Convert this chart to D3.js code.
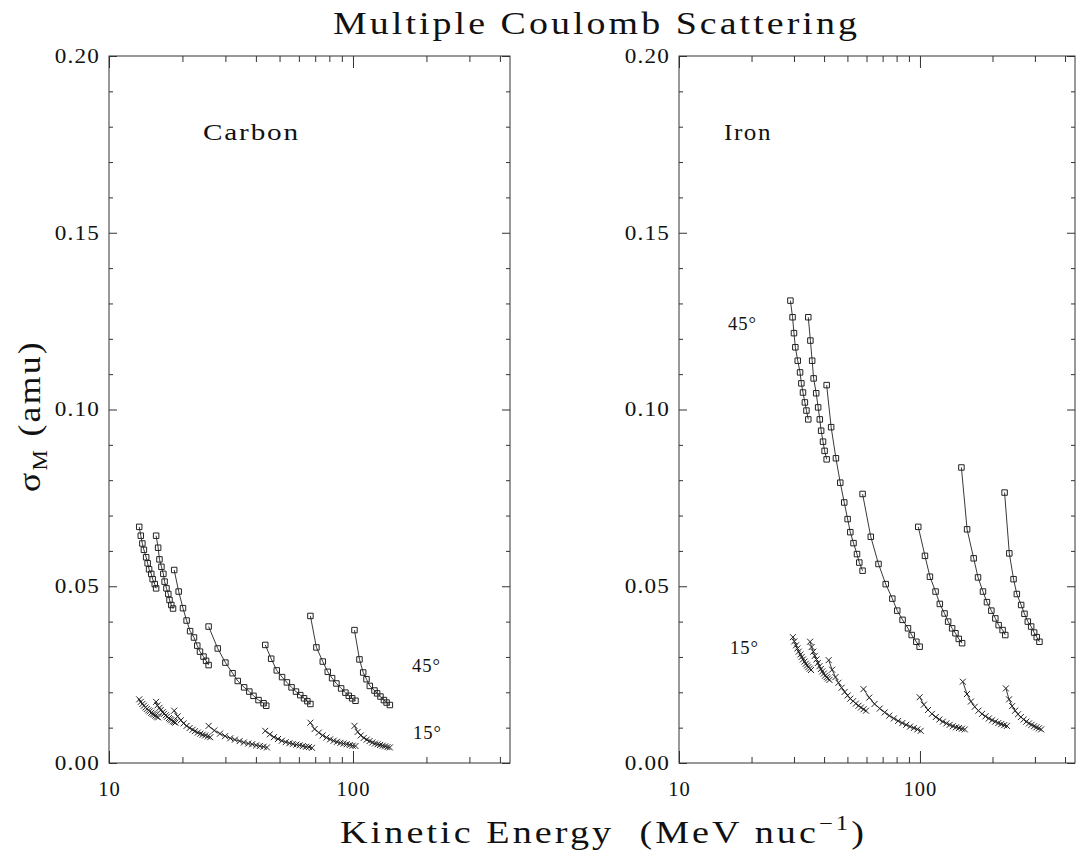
<!DOCTYPE html>
<html>
<head>
<meta charset="utf-8">
<script src="https://cdn.jsdelivr.net/npm/d3@7"></script>
<style>
  body { margin: 0; background: #fff; }
  text { font-family: "Liberation Serif", "DejaVu Serif", serif; fill: #111; white-space: pre; }
</style>
</head>
<body>
<script>
// energies (MeV/nuc) and sigma_M (amu), one inner array per beam-energy segment
const carbon45E = [
  [13.3, 13.5, 13.7, 13.9, 14.2, 14.4, 14.6, 14.9, 15.1, 15.4, 15.6],
  [15.6, 15.9, 16.1, 16.4, 16.7, 16.9, 17.2, 17.5, 17.7, 18.0, 18.3],
  [18.5, 19.3, 20.1, 20.8, 21.5, 22.3, 23.0, 23.6, 24.4, 25.0, 25.6],
  [25.6, 27.9, 30.0, 32.1, 33.7, 35.8, 37.6, 39.1, 41.0, 43.0, 44.1],
  [43.7, 46.2, 48.7, 51.2, 53.6, 56.0, 58.4, 60.8, 63.0, 65.0, 66.9],
  [66.9, 70.8, 75.2, 78.8, 82.1, 85.5, 89.4, 93.1, 96.1, 99.2, 102.4],
  [101.4, 106.3, 110.1, 113.6, 117.2, 122.5, 125.6, 129.6, 133.9, 137.3, 141.6]
];
const carbon45V = [
  [0.0668, 0.0643, 0.0621, 0.0603, 0.0582, 0.0565, 0.0548, 0.0535, 0.0520, 0.0506, 0.0494],
  [0.0643, 0.0609, 0.0576, 0.0555, 0.0535, 0.0513, 0.0494, 0.0478, 0.0461, 0.0447, 0.0437],
  [0.0546, 0.0485, 0.0438, 0.0403, 0.0373, 0.0355, 0.0332, 0.0315, 0.0301, 0.0289, 0.0277],
  [0.0386, 0.0324, 0.0284, 0.0254, 0.0232, 0.0214, 0.0202, 0.0190, 0.0178, 0.0169, 0.0162],
  [0.0334, 0.0295, 0.0262, 0.0243, 0.0228, 0.0214, 0.0202, 0.0192, 0.0183, 0.0175, 0.0167],
  [0.0416, 0.0327, 0.0287, 0.0258, 0.0240, 0.0225, 0.0211, 0.0199, 0.0190, 0.0183, 0.0176],
  [0.0376, 0.0293, 0.0256, 0.0237, 0.0218, 0.0205, 0.0197, 0.0188, 0.0178, 0.0171, 0.0164]
];
const carbon15E = [
  [13.3, 13.5, 13.7, 13.9, 14.1, 14.3, 14.5, 14.7, 14.9, 15.1, 15.3, 15.5, 15.7, 15.9],
  [15.6, 15.8, 16.1, 16.3, 16.6, 16.8, 17.1, 17.3, 17.6, 17.8, 18.0, 18.3, 18.5, 18.7],
  [18.5, 19.1, 19.7, 20.2, 20.8, 21.4, 22.0, 22.5, 23.1, 23.7, 24.2, 24.8, 25.4, 26.0],
  [25.6, 27.0, 28.5, 29.9, 31.4, 32.8, 34.3, 35.7, 37.2, 38.6, 40.1, 41.5, 43.0, 44.4],
  [43.7, 45.6, 47.4, 49.3, 51.1, 53.0, 54.9, 56.7, 58.6, 60.4, 62.3, 64.2, 66.0, 67.9],
  [66.9, 69.6, 72.4, 75.1, 77.8, 80.6, 83.3, 86.0, 88.8, 91.5, 94.2, 97.0, 99.7, 102.4],
  [101.4, 104.5, 107.6, 110.7, 113.8, 116.9, 120.0, 123.0, 126.1, 129.2, 132.3, 135.4, 138.5, 141.6]
];
const carbon15V = [
  [0.0180, 0.0173, 0.0167, 0.0162, 0.0157, 0.0153, 0.0149, 0.0146, 0.0142, 0.0139, 0.0137, 0.0134, 0.0131, 0.0129],
  [0.0173, 0.0163, 0.0156, 0.0150, 0.0144, 0.0139, 0.0135, 0.0131, 0.0127, 0.0124, 0.0121, 0.0118, 0.0116, 0.0114],
  [0.0148, 0.0132, 0.0121, 0.0112, 0.0105, 0.0099, 0.0094, 0.0090, 0.0086, 0.0083, 0.0080, 0.0078, 0.0075, 0.0073],
  [0.0105, 0.0092, 0.0083, 0.0076, 0.0070, 0.0066, 0.0062, 0.0058, 0.0055, 0.0053, 0.0050, 0.0048, 0.0046, 0.0044],
  [0.0091, 0.0081, 0.0073, 0.0068, 0.0063, 0.0059, 0.0056, 0.0054, 0.0052, 0.0050, 0.0048, 0.0046, 0.0045, 0.0043],
  [0.0114, 0.0096, 0.0086, 0.0078, 0.0072, 0.0067, 0.0063, 0.0060, 0.0057, 0.0055, 0.0053, 0.0051, 0.0049, 0.0048],
  [0.0105, 0.0088, 0.0078, 0.0071, 0.0066, 0.0062, 0.0058, 0.0055, 0.0053, 0.0051, 0.0049, 0.0047, 0.0045, 0.0044]
];
const iron45E = [
  [29.0, 29.6, 30.0, 30.4, 31.1, 31.8, 32.2, 32.7, 33.3, 33.8, 34.4],
  [34.4, 35.1, 35.7, 36.2, 37.1, 37.8, 38.4, 38.9, 39.6, 40.2, 41.0],
  [41.0, 42.8, 44.8, 46.7, 48.5, 50.1, 51.4, 53.0, 54.8, 56.0, 57.8],
  [57.8, 62.5, 67.3, 72.1, 76.8, 80.5, 84.7, 89.2, 92.4, 96.6, 99.7],
  [98.4, 104.9, 110.0, 116.1, 120.9, 126.5, 130.9, 136.0, 140.4, 144.9, 149.6],
  [148.6, 156.9, 167.1, 174.2, 182.6, 189.7, 197.8, 205.5, 212.1, 220.3, 226.0],
  [224.5, 234.9, 244.6, 252.4, 263.0, 271.5, 280.3, 289.4, 297.8, 305.2, 313.3]
];
const iron45V = [
  [0.1308, 0.1261, 0.1216, 0.1176, 0.1138, 0.1105, 0.1074, 0.1048, 0.1020, 0.0997, 0.0972],
  [0.1261, 0.1195, 0.1138, 0.1088, 0.1046, 0.1006, 0.0972, 0.0940, 0.0909, 0.0883, 0.0859],
  [0.1069, 0.0950, 0.0862, 0.0793, 0.0737, 0.0690, 0.0653, 0.0622, 0.0591, 0.0567, 0.0544],
  [0.0761, 0.0640, 0.0563, 0.0506, 0.0465, 0.0431, 0.0405, 0.0381, 0.0362, 0.0343, 0.0329],
  [0.0668, 0.0586, 0.0527, 0.0485, 0.0450, 0.0423, 0.0400, 0.0381, 0.0367, 0.0351, 0.0339],
  [0.0836, 0.0661, 0.0579, 0.0525, 0.0485, 0.0455, 0.0431, 0.0409, 0.0390, 0.0376, 0.0362],
  [0.0765, 0.0593, 0.0520, 0.0478, 0.0447, 0.0422, 0.0400, 0.0386, 0.0369, 0.0356, 0.0343]
];
const iron15E = [
  [29.7, 30.1, 30.6, 31.0, 31.4, 31.9, 32.3, 32.7, 33.2, 33.6, 34.0, 34.4, 34.9, 35.3],
  [35.0, 35.5, 36.1, 36.6, 37.2, 37.7, 38.3, 38.8, 39.3, 39.9, 40.4, 41.0, 41.5, 42.1],
  [41.8, 43.2, 44.6, 45.9, 47.3, 48.7, 50.1, 51.4, 52.8, 54.2, 55.6, 56.9, 58.3, 59.7],
  [58.3, 61.6, 64.8, 68.1, 71.4, 74.6, 77.9, 81.2, 84.5, 87.7, 91.0, 94.3, 97.5, 100.7],
  [99.7, 103.8, 108.0, 112.1, 116.3, 120.4, 124.5, 128.7, 132.8, 137.0, 141.1, 145.2, 149.4, 153.5],
  [150.6, 156.7, 162.8, 168.8, 174.9, 181.0, 187.0, 193.1, 199.2, 205.3, 211.4, 217.4, 223.5, 229.6],
  [227.3, 234.3, 241.3, 248.3, 255.3, 262.3, 269.3, 276.4, 283.4, 290.4, 297.4, 304.4, 311.4, 318.4]
];
const iron15V = [
  [0.0356, 0.0344, 0.0333, 0.0324, 0.0315, 0.0307, 0.0300, 0.0293, 0.0287, 0.0281, 0.0276, 0.0271, 0.0267, 0.0263],
  [0.0343, 0.0328, 0.0315, 0.0303, 0.0293, 0.0283, 0.0274, 0.0266, 0.0259, 0.0253, 0.0247, 0.0243, 0.0239, 0.0235],
  [0.0291, 0.0264, 0.0243, 0.0227, 0.0213, 0.0201, 0.0191, 0.0182, 0.0175, 0.0168, 0.0162, 0.0157, 0.0152, 0.0148],
  [0.0209, 0.0185, 0.0167, 0.0154, 0.0143, 0.0134, 0.0126, 0.0119, 0.0113, 0.0108, 0.0103, 0.0099, 0.0095, 0.0091],
  [0.0186, 0.0165, 0.0150, 0.0139, 0.0130, 0.0123, 0.0117, 0.0112, 0.0108, 0.0104, 0.0101, 0.0099, 0.0097, 0.0095],
  [0.0230, 0.0195, 0.0174, 0.0159, 0.0148, 0.0139, 0.0132, 0.0126, 0.0121, 0.0117, 0.0113, 0.0110, 0.0107, 0.0105],
  [0.0211, 0.0180, 0.0161, 0.0148, 0.0138, 0.0130, 0.0123, 0.0117, 0.0112, 0.0108, 0.0104, 0.0101, 0.0098, 0.0095]
];

const xDomain = [10, 440];
const xMajor = [10, 100];
const xMinor = [20, 30, 40, 50, 60, 70, 80, 90, 200, 300, 400];
const yMajor = [0, 0.05, 0.10, 0.15, 0.20];
const yMinor = [0.01, 0.02, 0.03, 0.04, 0.06, 0.07, 0.08, 0.09, 0.11, 0.12, 0.13, 0.14, 0.16, 0.17, 0.18, 0.19];

const width = 1083;
const height = 857;

const svg = d3.select('body').append('svg')
  .attr('width', width)
  .attr('height', height);

const y = d3.scaleLinear().domain([0, 0.2]).range([763, 56]);

// the original lettering is wide: some extra spacing, then stretch glyphs to the measured width
function fitText(t, target, ls) {
  t.attr('letter-spacing', ls)
    .attr('textLength', target)
    .attr('lengthAdjust', 'spacingAndGlyphs');
}

const panels = [
  { name: 'Carbon', left: 109, right: 510, e45: carbon45E, v45: carbon45V, e15: carbon15E, v15: carbon15V,
    nameAt: [203, 140, 97], a45: [412, 672], a15: [413, 739] },
  { name: 'Iron', left: 679, right: 1075, e45: iron45E, v45: iron45V, e15: iron15E, v15: iron15V,
    nameAt: [724, 140, 48], a45: [728, 330], a15: [730, 654] }
];

const zip = (es, vs) => es.map((e, i) => [e, vs[i]]);
const xMark = 'M-3,-3L3,3M-3,3L3,-3';

function drawPanel(p) {
  const x = d3.scaleLog().domain(xDomain).range([p.left, p.right]);
  const g = svg.append('g');

  g.append('rect')
    .attr('x', p.left).attr('y', y(0.2))
    .attr('width', p.right - p.left).attr('height', y(0) - y(0.2))
    .attr('fill', 'none').attr('stroke', '#333').attr('stroke-width', 1);

  const axes = [
    [d3.axisBottom(x).tickValues(xMajor).tickSize(-12).tickPadding(19).tickFormat(d3.format('d')), 0, y(0)],
    [d3.axisBottom(x).tickValues(xMinor).tickSize(-6).tickFormat(''), 0, y(0)],
    [d3.axisTop(x).tickValues(xMajor).tickSize(-12).tickFormat(''), 0, y(0.2)],
    [d3.axisTop(x).tickValues(xMinor).tickSize(-6).tickFormat(''), 0, y(0.2)],
    [d3.axisLeft(y).tickValues(yMajor).tickSize(-8).tickPadding(9).tickFormat(d3.format('.2f')), p.left, 0],
    [d3.axisLeft(y).tickValues(yMinor).tickSize(-4).tickFormat(''), p.left, 0],
    [d3.axisRight(y).tickValues(yMajor).tickSize(-8).tickFormat(''), p.right, 0],
    [d3.axisRight(y).tickValues(yMinor).tickSize(-4).tickFormat(''), p.right, 0]
  ];
  axes.forEach(([ax, tx, ty]) => {
    const a = g.append('g').attr('transform', `translate(${tx},${ty})`).call(ax);
    a.select('.domain').remove();
    a.selectAll('line').attr('stroke', '#333').attr('stroke-width', 1);
    a.selectAll('text')
      .attr('font-family', '"Liberation Serif", serif')
      .attr('font-size', 20)
      .attr('fill', '#111')
      .each(function () {
        const t = d3.select(this);
        fitText(t, t.text().length * 11.3, 1);
      });
  });

  const line = d3.line().x(d => x(d[0])).y(d => y(d[1]));

  // 45 degree: squares
  p.e45.forEach((es, i) => {
    const pts = zip(es, p.v45[i]);
    g.append('path').attr('d', line(pts))
      .attr('fill', 'none').attr('stroke', '#222').attr('stroke-width', 0.9);
    g.selectAll(null).data(pts).enter().append('path')
      .attr('d', d3.symbol(d3.symbolSquare, 30))
      .attr('transform', d => `translate(${x(d[0])},${y(d[1])})`)
      .attr('fill', 'none').attr('stroke', '#222').attr('stroke-width', 1);
  });

  // 15 degree: crosses
  p.e15.forEach((es, i) => {
    const pts = zip(es, p.v15[i]);
    g.append('path').attr('d', line(pts))
      .attr('fill', 'none').attr('stroke', '#222').attr('stroke-width', 0.9);
    g.selectAll(null).data(pts).enter().append('path')
      .attr('d', xMark)
      .attr('transform', d => `translate(${x(d[0])},${y(d[1])})`)
      .attr('fill', 'none').attr('stroke', '#222').attr('stroke-width', 1);
  });

  const nm = g.append('text')
    .attr('x', p.nameAt[0]).attr('y', p.nameAt[1])
    .attr('font-size', 24)
    .text(p.name);
  fitText(nm, p.nameAt[2], 1.5);

  const a45 = g.append('text').attr('x', p.a45[0]).attr('y', p.a45[1])
    .attr('font-size', 19).text('45°');
  fitText(a45, 29, 1);
  const a15 = g.append('text').attr('x', p.a15[0]).attr('y', p.a15[1])
    .attr('font-size', 19).text('15°');
  fitText(a15, 29, 1);
}

panels.forEach(drawPanel);

// titles
const title = svg.append('text')
  .attr('x', 333).attr('y', 34)
  .attr('font-size', 31)
  .text('Multiple Coulomb Scattering');
fitText(title, 527, 2.5);

const xTitle = svg.append('text')
  .attr('x', 340).attr('y', 843)
  .attr('font-size', 31);
xTitle.append('tspan').text('Kinetic Energy  (MeV nuc');
xTitle.append('tspan').attr('font-size', 20).attr('dy', -13).text('−1');
xTitle.append('tspan').attr('dy', 13).text(')');
fitText(xTitle, 527, 2.5);

const yTitle = svg.append('text')
  .attr('transform', 'translate(40,492) rotate(-90)')
  .attr('font-size', 31);
yTitle.append('tspan').text('σ');
yTitle.append('tspan').attr('font-size', 20).attr('dy', 7).text('M');
yTitle.append('tspan').attr('dy', -7).text(' (amu)');
fitText(yTitle, 152, 2);
</script>
</body>
</html>
